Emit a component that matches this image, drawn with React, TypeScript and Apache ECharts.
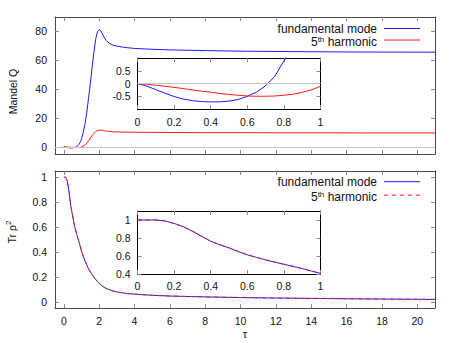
import React, { useEffect, useRef } from "react";
import * as echarts from "echarts";

const tau = [
  0, 0.05, 0.1, 0.15, 0.2, 0.25, 0.3, 0.35, 0.4, 0.45, 0.5, 0.55, 0.6, 0.65, 0.7, 0.75, 0.8, 0.85, 0.9, 0.95, 1.0,
  1.1, 1.2, 1.3, 1.4, 1.5, 1.6, 1.7, 1.8, 1.9, 2.0, 2.1, 2.2, 2.3, 2.4,
  2.6, 2.8, 3.0, 3.3, 3.6, 4, 5, 6, 8, 10, 12, 14, 17, 21,
];
const qFundamental = [
  0, -0.1, -0.24, -0.38, -0.51, -0.61, -0.67, -0.71, -0.72, -0.72, -0.69, -0.63, -0.5, -0.34, -0.09, 0.28, 0.88, 1.6, 2.5, 3.8, 5.5,
  10, 16, 24, 34, 44, 55, 65.5, 74.5, 79.8, 81.2, 80.2, 78, 75.6, 73.7,
  71.5, 70.4, 69.8, 69.2, 68.7, 68.2, 67.6, 67.2, 66.7, 66.3, 66.1, 65.9, 65.7, 65.6,
];
const qHarmonic = [
  0, -0.03, -0.07, -0.11, -0.15, -0.2, -0.25, -0.3, -0.34, -0.39, -0.43, -0.46, -0.49, -0.5, -0.5, -0.49, -0.46, -0.42, -0.35, -0.25, -0.11,
  0.4, 1.2, 2.5, 4.2, 6, 7.8, 9.3, 10.5, 11.2, 11.6, 11.6, 11.4, 11.1, 10.9,
  10.6, 10.4, 10.3, 10.2, 10.1, 10.1, 10, 9.9, 9.8, 9.8, 9.7, 9.7, 9.6, 9.6,
];
const purityFundamental = [
  1, 1, 1, 0.99, 0.962, 0.925, 0.876, 0.82, 0.764, 0.725, 0.69, 0.65, 0.613, 0.585, 0.557, 0.532, 0.508, 0.485, 0.46, 0.433, 0.407,
  0.365, 0.33, 0.295, 0.265, 0.24, 0.218, 0.198, 0.18, 0.163, 0.148, 0.135, 0.124, 0.115, 0.107,
  0.095, 0.086, 0.079, 0.072, 0.066, 0.061, 0.052, 0.046, 0.039, 0.034, 0.03, 0.027, 0.023, 0.019,
];
const purityHarmonic = [
  1, 1, 1, 0.99, 0.962, 0.925, 0.876, 0.82, 0.764, 0.725, 0.69, 0.65, 0.613, 0.585, 0.557, 0.532, 0.508, 0.485, 0.46, 0.433, 0.407,
  0.365, 0.33, 0.295, 0.265, 0.24, 0.218, 0.198, 0.18, 0.163, 0.148, 0.135, 0.124, 0.115, 0.107,
  0.095, 0.086, 0.079, 0.072, 0.066, 0.061, 0.052, 0.046, 0.039, 0.034, 0.03, 0.027, 0.023, 0.019,
];

const mainXTicks = [0, 2, 4, 6, 8, 10, 12, 14, 16, 18, 20];
const qTicks = [0, 20, 40, 60, 80];
const purityTicks = [0, 0.2, 0.4, 0.6, 0.8, 1];
const insetXTicks = [0, 0.2, 0.4, 0.6, 0.8, 1];
const insetQTicks = [-0.5, 0, 0.5];
const insetPurityTicks = [0.4, 0.6, 0.8, 1];

const FONT = "Liberation Sans";
const BLUE = "#1a1aff";
const RED = "#ff1a1a";

const axis = (o: any) => ({
  type: "value",
  gridIndex: o.grid,
  position: o.position,
  min: o.min,
  max: o.max,
  axisLine: { show: true, onZero: false, lineStyle: { color: o.frame, width: 1 } },
  axisTick: {
    show: true,
    inside: true,
    length: 4,
    customValues: o.ticks,
    lineStyle: { color: "#8a8a8a", width: 1 },
  },
  axisLabel: o.labels
    ? {
        show: true,
        customValues: o.labels,
        margin: o.margin,
        fontFamily: FONT,
        fontSize: 10.5,
        color: "#111",
      }
    : { show: false },
  splitLine: { show: false },
  name: o.name,
  nameLocation: "middle",
  nameGap: o.nameGap,
  nameTextStyle: { fontFamily: FONT, fontSize: 11, color: "#111" },
});

const pts = (ys: number[]) => tau.map((t, i) => [t, ys[i]]);

const line = (xi: number, yi: number, ys: number[], color: string, dashed = false, extra: any = {}) => ({
  type: "line",
  xAxisIndex: xi,
  yAxisIndex: yi,
  data: pts(ys),
  showSymbol: false,
  symbol: "none",
  smooth: false,
  clip: true,
  lineStyle: { color, width: 1, type: dashed ? [4, 4] : "solid" },
  emphasis: { disabled: true },
  ...extra,
});

const zeroLine = {
  silent: true,
  symbol: "none",
  label: { show: false },
  lineStyle: { color: "#c4c4c4", type: "solid", width: 1 },
  data: [{ yAxis: 0 }],
};

const richBase = { fontFamily: FONT, fill: "#111" };
const harmonicRich = {
  n: { fontFamily: FONT, fontSize: 12, lineHeight: 14, fill: "#111" },
  sup: { fontFamily: FONT, fontSize: 8, lineHeight: 7, verticalAlign: "top", fill: "#111" },
};

export default function App() {
  const ref = useRef<HTMLDivElement>(null);
  useEffect(() => {
    if (!ref.current) return;
    const chart = echarts.init(ref.current, undefined, { renderer: "svg" });
    const mainFrame = "#4a4a4a";
    const insetFrame = "#000";
    chart.setOption({
      animation: false,
      backgroundColor: "#fff",
      grid: [
        { left: 55, top: 17, width: 380, height: 137, containLabel: false, outerBoundsMode: "none" },
        { left: 55, top: 171, width: 380, height: 137, containLabel: false, outerBoundsMode: "none" },
        { left: 137.5, top: 58, width: 183, height: 51, containLabel: false, outerBoundsMode: "none" },
        { left: 137.5, top: 211, width: 183, height: 63, containLabel: false, outerBoundsMode: "none" },
      ],
      xAxis: [
        axis({ grid: 0, position: "bottom", min: -0.5, max: 21, ticks: mainXTicks, frame: mainFrame }),
        axis({ grid: 0, position: "top", min: -0.5, max: 21, ticks: mainXTicks, frame: mainFrame }),
        axis({ grid: 1, position: "bottom", min: -0.5, max: 21, ticks: mainXTicks, labels: mainXTicks, margin: 7, frame: mainFrame, name: "τ", nameGap: 20 }),
        axis({ grid: 1, position: "top", min: -0.5, max: 21, ticks: mainXTicks, frame: mainFrame }),
        axis({ grid: 2, position: "bottom", min: 0, max: 1, ticks: insetXTicks, labels: insetXTicks, margin: 7, frame: insetFrame }),
        axis({ grid: 2, position: "top", min: 0, max: 1, ticks: insetXTicks, frame: insetFrame }),
        axis({ grid: 3, position: "bottom", min: 0, max: 1, ticks: insetXTicks, labels: insetXTicks, margin: 6, frame: insetFrame }),
        axis({ grid: 3, position: "top", min: 0, max: 1, ticks: insetXTicks, frame: insetFrame }),
      ],
      yAxis: [
        axis({ grid: 0, position: "left", min: -5, max: 90, ticks: qTicks, labels: qTicks, margin: 8, frame: mainFrame }),
        axis({ grid: 0, position: "right", min: -5, max: 90, ticks: qTicks, frame: mainFrame }),
        axis({ grid: 1, position: "left", min: -0.05, max: 1.05, ticks: purityTicks, labels: purityTicks, margin: 8, frame: mainFrame }),
        axis({ grid: 1, position: "right", min: -0.05, max: 1.05, ticks: purityTicks, frame: mainFrame }),
        axis({ grid: 2, position: "left", min: -1, max: 1, ticks: insetQTicks, labels: insetQTicks, margin: 7, frame: insetFrame }),
        axis({ grid: 2, position: "right", min: -1, max: 1, ticks: insetQTicks, frame: insetFrame }),
        axis({ grid: 3, position: "left", min: 0.4, max: 1.1, ticks: insetPurityTicks, labels: insetPurityTicks, margin: 7, frame: insetFrame }),
        axis({ grid: 3, position: "right", min: 0.4, max: 1.1, ticks: insetPurityTicks, frame: insetFrame }),
      ],
      series: [
        line(0, 0, qFundamental, BLUE, false, { markLine: zeroLine }),
        line(0, 0, qHarmonic, RED),
        line(2, 2, purityFundamental, BLUE),
        line(2, 2, purityHarmonic, RED, true),
        line(4, 4, qFundamental, BLUE, false, { markLine: zeroLine }),
        line(4, 4, qHarmonic, RED),
        line(6, 6, purityFundamental, BLUE),
        line(6, 6, purityHarmonic, RED, true),
      ],
      graphic: [
        {
          type: "text",
          x: 13,
          y: 91.5,
          rotation: Math.PI / 2,
          style: { ...richBase, text: "Mandel Q", fontSize: 10.5, align: "center", verticalAlign: "middle" },
        },
        {
          type: "text",
          x: 12,
          y: 232,
          rotation: Math.PI / 2,
          style: {
            ...richBase,
            text: "{n|Tr ρ}{sup|2}",
            align: "center",
            verticalAlign: "middle",
            rich: {
              n: { fontFamily: FONT, fontSize: 10.5, lineHeight: 16, fill: "#111" },
              sup: { fontFamily: FONT, fontSize: 8, lineHeight: 8, verticalAlign: "top", fill: "#111" },
            },
          },
        },
        // top legend
        {
          type: "text",
          x: 377,
          y: 28.5,
          style: { ...richBase, text: "fundamental mode", fontSize: 12, lineHeight: 12, align: "right", verticalAlign: "middle" },
        },
        { type: "line", shape: { x1: 384, y1: 28.5, x2: 420, y2: 28.5 }, style: { stroke: BLUE, lineWidth: 1 } },
        {
          type: "text",
          x: 377,
          y: 42,
          style: { ...richBase, text: "{n|5}{sup|th}{n| harmonic}", align: "right", verticalAlign: "middle", rich: harmonicRich },
        },
        { type: "line", shape: { x1: 384, y1: 40, x2: 420, y2: 40 }, style: { stroke: RED, lineWidth: 1 } },
        // bottom legend
        {
          type: "text",
          x: 377,
          y: 181.7,
          style: { ...richBase, text: "fundamental mode", fontSize: 12, lineHeight: 12, align: "right", verticalAlign: "middle" },
        },
        { type: "line", shape: { x1: 384, y1: 181.7, x2: 420, y2: 181.7 }, style: { stroke: BLUE, lineWidth: 1 } },
        {
          type: "text",
          x: 377,
          y: 197,
          style: { ...richBase, text: "{n|5}{sup|th}{n| harmonic}", align: "right", verticalAlign: "middle", rich: harmonicRich },
        },
        {
          type: "line",
          shape: { x1: 384, y1: 195.2, x2: 420, y2: 195.2 },
          style: { stroke: RED, lineWidth: 1, lineDash: [4, 4] },
        },
      ],
    });
    return () => chart.dispose();
  }, []);
  return (
    <div
      ref={ref}
      style={{ position: "absolute", left: 0, top: 0, width: 458, height: 343 }}
    />
  );
}
